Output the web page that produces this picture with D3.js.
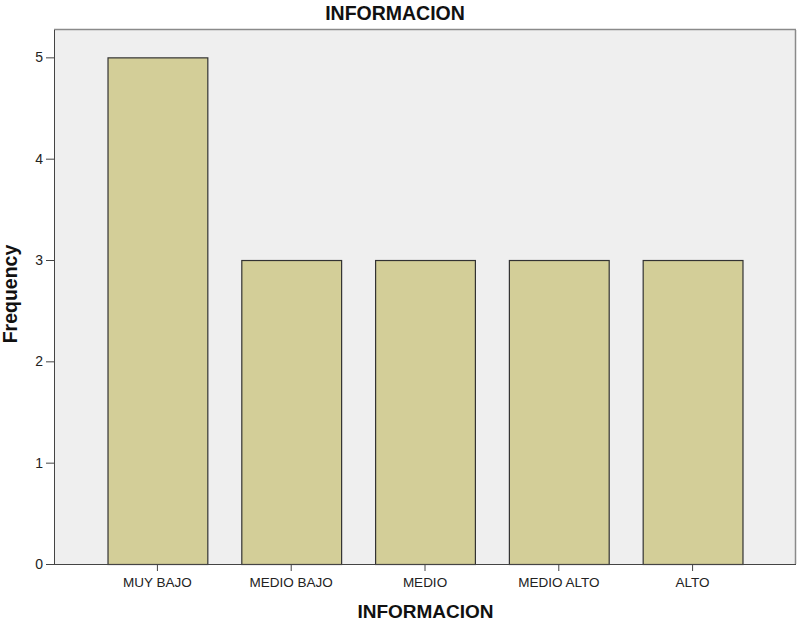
<!DOCTYPE html>
<html>
<head>
<meta charset="utf-8">
<script src="https://cdn.jsdelivr.net/npm/d3@7"></script>
<style>
  body { margin: 0; background: #fff; }
  text { font-family: Arial, "Liberation Sans", sans-serif; }
</style>
</head>
<body>
<svg id="chart" width="797" height="626"></svg>
<script>
const categories = ["MUY BAJO", "MEDIO BAJO", "MEDIO", "MEDIO ALTO", "ALTO"];
const frequencies = [5, 3, 3, 3, 3];
const yTicks = [0, 1, 2, 3, 4, 5];

const svg = d3.select("#chart");
const plot = { left: 54, right: 796, top: 30, bottom: 564 };

const x = d3.scaleBand()
  .domain(categories)
  .range([plot.left, plot.right])
  .paddingInner(0.254)
  .paddingOuter(0.4);

const y = d3.scaleLinear()
  .domain([0, 5.27])
  .range([plot.bottom, plot.top]);

// plot background and frame
svg.append("rect")
  .attr("x", plot.left).attr("y", plot.top)
  .attr("width", plot.right - plot.left).attr("height", plot.bottom - plot.top)
  .attr("fill", "#efefef");
svg.append("line")
  .attr("x1", plot.left).attr("x2", plot.right)
  .attr("y1", plot.top - 0.5).attr("y2", plot.top - 0.5)
  .attr("stroke", "#8a8a8a").attr("stroke-width", 1.5);
svg.append("line")
  .attr("x1", plot.right - 0.5).attr("x2", plot.right - 0.5)
  .attr("y1", plot.top).attr("y2", plot.bottom)
  .attr("stroke", "#8a8a8a").attr("stroke-width", 1.5);

// bars
svg.append("g").selectAll("rect")
  .data(categories)
  .join("rect")
  .attr("x", d => x(d) + 0.5)
  .attr("y", (d, i) => y(frequencies[i]) + 0.5)
  .attr("width", x.bandwidth())
  .attr("height", (d, i) => y(0) - y(frequencies[i]))
  .attr("fill", "#d3ce98")
  .attr("stroke", "#333")
  .attr("stroke-width", 1.2);

// y axis
const yAxis = svg.append("g")
  .attr("transform", `translate(${plot.left},0)`)
  .call(d3.axisLeft(y).tickValues(yTicks).tickFormat(d3.format("d")).tickSize(8).tickPadding(3));
yAxis.select(".domain").attr("d", `M0.5,${plot.top}V${plot.bottom}`).attr("stroke", "#444");
yAxis.selectAll(".tick line").attr("stroke", "#444");
yAxis.selectAll(".tick text").attr("font-size", 14).attr("fill", "#222");

// x axis
const xAxis = svg.append("g")
  .attr("transform", `translate(0,${plot.bottom})`)
  .call(d3.axisBottom(x).tickSize(7).tickPadding(6.5));
xAxis.select(".domain").attr("d", `M${plot.left},0.5H${plot.right}`).attr("stroke", "#444");
xAxis.selectAll(".tick line").attr("stroke", "#444");
xAxis.selectAll(".tick text").attr("font-size", 13.5).attr("fill", "#222");

// titles
svg.append("text")
  .attr("x", 395).attr("y", 20)
  .attr("text-anchor", "middle")
  .attr("font-size", 19.5).attr("font-weight", "bold").attr("fill", "#111")
  .text("INFORMACION");
svg.append("text")
  .attr("x", 425.5).attr("y", 618)
  .attr("text-anchor", "middle")
  .attr("font-size", 19).attr("font-weight", "bold").attr("fill", "#111")
  .text("INFORMACION");
svg.append("text")
  .attr("transform", "translate(17,294) rotate(-90)")
  .attr("text-anchor", "middle")
  .attr("font-size", 19.5).attr("font-weight", "bold").attr("fill", "#111")
  .text("Frequency");
</script>
</body>
</html>
